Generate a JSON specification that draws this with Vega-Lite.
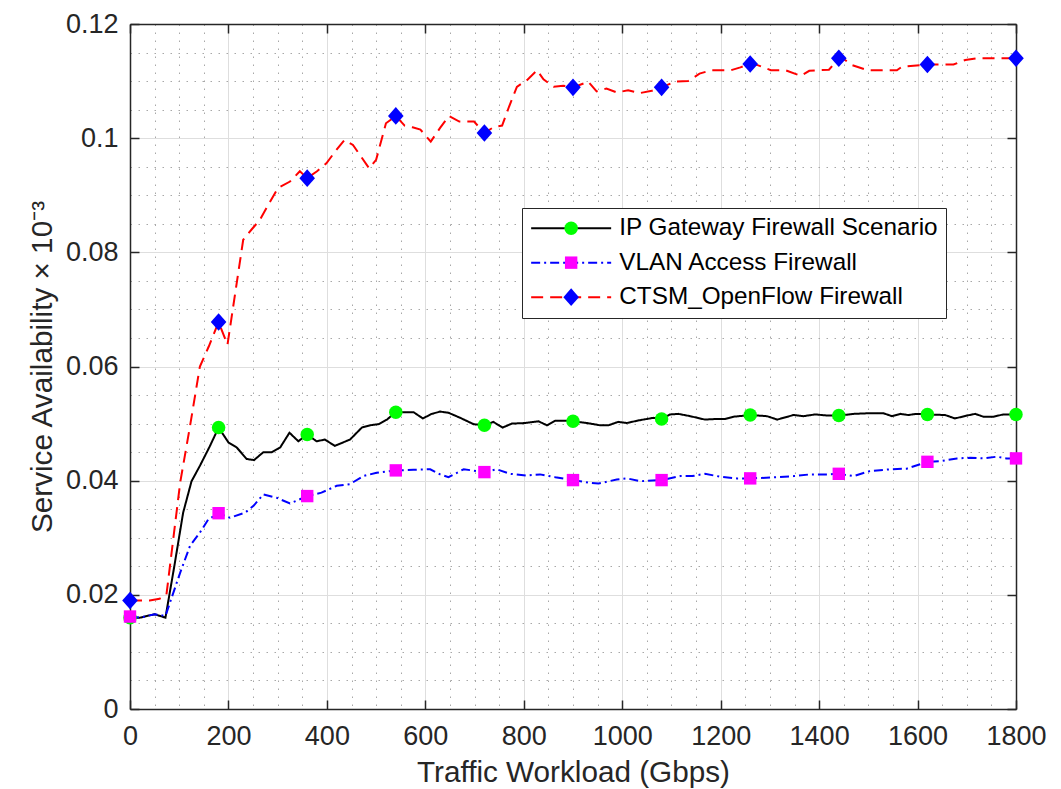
{
  "$schema": "https://vega.github.io/schema/vega-lite/v6.json",
  "width": 886,
  "height": 685,
  "autosize": {"type": "none"},
  "padding": {"left": 130, "top": 24, "right": 45, "bottom": 80},
  "background": "#ffffff",
  "config": {"view": {"stroke": null}, "font": "Liberation Sans"},
  "datasets": {
    "curves": [
      {"series": "IP Gateway Firewall Scenario", "x": 0, "y": 0.0160},
      {"series": "IP Gateway Firewall Scenario", "x": 20, "y": 0.0160},
      {"series": "IP Gateway Firewall Scenario", "x": 50, "y": 0.0166},
      {"series": "IP Gateway Firewall Scenario", "x": 72, "y": 0.0160},
      {"series": "IP Gateway Firewall Scenario", "x": 90, "y": 0.0250},
      {"series": "IP Gateway Firewall Scenario", "x": 108, "y": 0.0344},
      {"series": "IP Gateway Firewall Scenario", "x": 125, "y": 0.0399},
      {"series": "IP Gateway Firewall Scenario", "x": 142, "y": 0.0426},
      {"series": "IP Gateway Firewall Scenario", "x": 162, "y": 0.0460},
      {"series": "IP Gateway Firewall Scenario", "x": 180, "y": 0.0493},
      {"series": "IP Gateway Firewall Scenario", "x": 200, "y": 0.0467},
      {"series": "IP Gateway Firewall Scenario", "x": 217, "y": 0.0458},
      {"series": "IP Gateway Firewall Scenario", "x": 237, "y": 0.0438},
      {"series": "IP Gateway Firewall Scenario", "x": 252, "y": 0.0436},
      {"series": "IP Gateway Firewall Scenario", "x": 271, "y": 0.0450},
      {"series": "IP Gateway Firewall Scenario", "x": 288, "y": 0.0450},
      {"series": "IP Gateway Firewall Scenario", "x": 305, "y": 0.0458},
      {"series": "IP Gateway Firewall Scenario", "x": 324, "y": 0.0484},
      {"series": "IP Gateway Firewall Scenario", "x": 342, "y": 0.0469},
      {"series": "IP Gateway Firewall Scenario", "x": 360, "y": 0.0481},
      {"series": "IP Gateway Firewall Scenario", "x": 379, "y": 0.0469},
      {"series": "IP Gateway Firewall Scenario", "x": 396, "y": 0.0472},
      {"series": "IP Gateway Firewall Scenario", "x": 416, "y": 0.0461},
      {"series": "IP Gateway Firewall Scenario", "x": 447, "y": 0.0472},
      {"series": "IP Gateway Firewall Scenario", "x": 471, "y": 0.0493},
      {"series": "IP Gateway Firewall Scenario", "x": 488, "y": 0.0497},
      {"series": "IP Gateway Firewall Scenario", "x": 505, "y": 0.0499},
      {"series": "IP Gateway Firewall Scenario", "x": 522, "y": 0.0507},
      {"series": "IP Gateway Firewall Scenario", "x": 540, "y": 0.0520},
      {"series": "IP Gateway Firewall Scenario", "x": 576, "y": 0.0520},
      {"series": "IP Gateway Firewall Scenario", "x": 595, "y": 0.0509},
      {"series": "IP Gateway Firewall Scenario", "x": 613, "y": 0.0517},
      {"series": "IP Gateway Firewall Scenario", "x": 630, "y": 0.0521},
      {"series": "IP Gateway Firewall Scenario", "x": 647, "y": 0.0519},
      {"series": "IP Gateway Firewall Scenario", "x": 671, "y": 0.0510},
      {"series": "IP Gateway Firewall Scenario", "x": 698, "y": 0.0499},
      {"series": "IP Gateway Firewall Scenario", "x": 720, "y": 0.0497},
      {"series": "IP Gateway Firewall Scenario", "x": 738, "y": 0.0503},
      {"series": "IP Gateway Firewall Scenario", "x": 757, "y": 0.0493},
      {"series": "IP Gateway Firewall Scenario", "x": 776, "y": 0.0500},
      {"series": "IP Gateway Firewall Scenario", "x": 803, "y": 0.0501},
      {"series": "IP Gateway Firewall Scenario", "x": 830, "y": 0.0504},
      {"series": "IP Gateway Firewall Scenario", "x": 847, "y": 0.0497},
      {"series": "IP Gateway Firewall Scenario", "x": 864, "y": 0.0505},
      {"series": "IP Gateway Firewall Scenario", "x": 884, "y": 0.0505},
      {"series": "IP Gateway Firewall Scenario", "x": 900, "y": 0.0504},
      {"series": "IP Gateway Firewall Scenario", "x": 928, "y": 0.0501},
      {"series": "IP Gateway Firewall Scenario", "x": 955, "y": 0.0497},
      {"series": "IP Gateway Firewall Scenario", "x": 972, "y": 0.0497},
      {"series": "IP Gateway Firewall Scenario", "x": 992, "y": 0.0503},
      {"series": "IP Gateway Firewall Scenario", "x": 1009, "y": 0.0501},
      {"series": "IP Gateway Firewall Scenario", "x": 1036, "y": 0.0506},
      {"series": "IP Gateway Firewall Scenario", "x": 1063, "y": 0.0510},
      {"series": "IP Gateway Firewall Scenario", "x": 1080, "y": 0.0508},
      {"series": "IP Gateway Firewall Scenario", "x": 1097, "y": 0.0516},
      {"series": "IP Gateway Firewall Scenario", "x": 1114, "y": 0.0517},
      {"series": "IP Gateway Firewall Scenario", "x": 1138, "y": 0.0513},
      {"series": "IP Gateway Firewall Scenario", "x": 1168, "y": 0.0507},
      {"series": "IP Gateway Firewall Scenario", "x": 1189, "y": 0.0508},
      {"series": "IP Gateway Firewall Scenario", "x": 1209, "y": 0.0508},
      {"series": "IP Gateway Firewall Scenario", "x": 1226, "y": 0.0512},
      {"series": "IP Gateway Firewall Scenario", "x": 1260, "y": 0.0515},
      {"series": "IP Gateway Firewall Scenario", "x": 1294, "y": 0.0513},
      {"series": "IP Gateway Firewall Scenario", "x": 1315, "y": 0.0507},
      {"series": "IP Gateway Firewall Scenario", "x": 1348, "y": 0.0515},
      {"series": "IP Gateway Firewall Scenario", "x": 1368, "y": 0.0513},
      {"series": "IP Gateway Firewall Scenario", "x": 1392, "y": 0.0516},
      {"series": "IP Gateway Firewall Scenario", "x": 1419, "y": 0.0514},
      {"series": "IP Gateway Firewall Scenario", "x": 1440, "y": 0.0514},
      {"series": "IP Gateway Firewall Scenario", "x": 1470, "y": 0.0517},
      {"series": "IP Gateway Firewall Scenario", "x": 1497, "y": 0.0518},
      {"series": "IP Gateway Firewall Scenario", "x": 1531, "y": 0.0518},
      {"series": "IP Gateway Firewall Scenario", "x": 1548, "y": 0.0513},
      {"series": "IP Gateway Firewall Scenario", "x": 1565, "y": 0.0517},
      {"series": "IP Gateway Firewall Scenario", "x": 1581, "y": 0.0515},
      {"series": "IP Gateway Firewall Scenario", "x": 1598, "y": 0.0517},
      {"series": "IP Gateway Firewall Scenario", "x": 1620, "y": 0.0516},
      {"series": "IP Gateway Firewall Scenario", "x": 1656, "y": 0.0515},
      {"series": "IP Gateway Firewall Scenario", "x": 1676, "y": 0.0509},
      {"series": "IP Gateway Firewall Scenario", "x": 1700, "y": 0.0514},
      {"series": "IP Gateway Firewall Scenario", "x": 1717, "y": 0.0517},
      {"series": "IP Gateway Firewall Scenario", "x": 1734, "y": 0.0512},
      {"series": "IP Gateway Firewall Scenario", "x": 1754, "y": 0.0512},
      {"series": "IP Gateway Firewall Scenario", "x": 1774, "y": 0.0516},
      {"series": "IP Gateway Firewall Scenario", "x": 1800, "y": 0.0516},

      {"series": "VLAN Access Firewall", "x": 0, "y": 0.0162},
      {"series": "VLAN Access Firewall", "x": 20, "y": 0.0160},
      {"series": "VLAN Access Firewall", "x": 50, "y": 0.0166},
      {"series": "VLAN Access Firewall", "x": 72, "y": 0.0163},
      {"series": "VLAN Access Firewall", "x": 102, "y": 0.0239},
      {"series": "VLAN Access Firewall", "x": 122, "y": 0.0286},
      {"series": "VLAN Access Firewall", "x": 142, "y": 0.0309},
      {"series": "VLAN Access Firewall", "x": 159, "y": 0.0332},
      {"series": "VLAN Access Firewall", "x": 180, "y": 0.0343},
      {"series": "VLAN Access Firewall", "x": 203, "y": 0.0335},
      {"series": "VLAN Access Firewall", "x": 234, "y": 0.0344},
      {"series": "VLAN Access Firewall", "x": 251, "y": 0.0356},
      {"series": "VLAN Access Firewall", "x": 271, "y": 0.0376},
      {"series": "VLAN Access Firewall", "x": 298, "y": 0.0370},
      {"series": "VLAN Access Firewall", "x": 325, "y": 0.0360},
      {"series": "VLAN Access Firewall", "x": 360, "y": 0.0373},
      {"series": "VLAN Access Firewall", "x": 389, "y": 0.0379},
      {"series": "VLAN Access Firewall", "x": 420, "y": 0.0391},
      {"series": "VLAN Access Firewall", "x": 447, "y": 0.0394},
      {"series": "VLAN Access Firewall", "x": 474, "y": 0.0408},
      {"series": "VLAN Access Firewall", "x": 501, "y": 0.0414},
      {"series": "VLAN Access Firewall", "x": 540, "y": 0.0418},
      {"series": "VLAN Access Firewall", "x": 576, "y": 0.0419},
      {"series": "VLAN Access Firewall", "x": 610, "y": 0.0420},
      {"series": "VLAN Access Firewall", "x": 630, "y": 0.0411},
      {"series": "VLAN Access Firewall", "x": 647, "y": 0.0406},
      {"series": "VLAN Access Firewall", "x": 678, "y": 0.0420},
      {"series": "VLAN Access Firewall", "x": 720, "y": 0.0415},
      {"series": "VLAN Access Firewall", "x": 745, "y": 0.0420},
      {"series": "VLAN Access Firewall", "x": 772, "y": 0.0412},
      {"series": "VLAN Access Firewall", "x": 806, "y": 0.0409},
      {"series": "VLAN Access Firewall", "x": 833, "y": 0.0411},
      {"series": "VLAN Access Firewall", "x": 864, "y": 0.0406},
      {"series": "VLAN Access Firewall", "x": 900, "y": 0.0401},
      {"series": "VLAN Access Firewall", "x": 935, "y": 0.0396},
      {"series": "VLAN Access Firewall", "x": 952, "y": 0.0395},
      {"series": "VLAN Access Firewall", "x": 989, "y": 0.0402},
      {"series": "VLAN Access Firewall", "x": 1010, "y": 0.0404},
      {"series": "VLAN Access Firewall", "x": 1036, "y": 0.0399},
      {"series": "VLAN Access Firewall", "x": 1080, "y": 0.0401},
      {"series": "VLAN Access Firewall", "x": 1118, "y": 0.0408},
      {"series": "VLAN Access Firewall", "x": 1142, "y": 0.0408},
      {"series": "VLAN Access Firewall", "x": 1168, "y": 0.0412},
      {"series": "VLAN Access Firewall", "x": 1199, "y": 0.0407},
      {"series": "VLAN Access Firewall", "x": 1233, "y": 0.0404},
      {"series": "VLAN Access Firewall", "x": 1260, "y": 0.0404},
      {"series": "VLAN Access Firewall", "x": 1314, "y": 0.0406},
      {"series": "VLAN Access Firewall", "x": 1348, "y": 0.0408},
      {"series": "VLAN Access Firewall", "x": 1382, "y": 0.0411},
      {"series": "VLAN Access Firewall", "x": 1416, "y": 0.0411},
      {"series": "VLAN Access Firewall", "x": 1440, "y": 0.0412},
      {"series": "VLAN Access Firewall", "x": 1470, "y": 0.0408},
      {"series": "VLAN Access Firewall", "x": 1504, "y": 0.0417},
      {"series": "VLAN Access Firewall", "x": 1545, "y": 0.0420},
      {"series": "VLAN Access Firewall", "x": 1578, "y": 0.0421},
      {"series": "VLAN Access Firewall", "x": 1620, "y": 0.0433},
      {"series": "VLAN Access Firewall", "x": 1646, "y": 0.0434},
      {"series": "VLAN Access Firewall", "x": 1680, "y": 0.0439},
      {"series": "VLAN Access Firewall", "x": 1707, "y": 0.0440},
      {"series": "VLAN Access Firewall", "x": 1734, "y": 0.0439},
      {"series": "VLAN Access Firewall", "x": 1761, "y": 0.0442},
      {"series": "VLAN Access Firewall", "x": 1781, "y": 0.0439},
      {"series": "VLAN Access Firewall", "x": 1800, "y": 0.0439},

      {"series": "CTSM_OpenFlow Firewall", "x": 0, "y": 0.0190},
      {"series": "CTSM_OpenFlow Firewall", "x": 20, "y": 0.0190},
      {"series": "CTSM_OpenFlow Firewall", "x": 40, "y": 0.0190},
      {"series": "CTSM_OpenFlow Firewall", "x": 60, "y": 0.0193},
      {"series": "CTSM_OpenFlow Firewall", "x": 74, "y": 0.0200},
      {"series": "CTSM_OpenFlow Firewall", "x": 102, "y": 0.0397},
      {"series": "CTSM_OpenFlow Firewall", "x": 122, "y": 0.0496},
      {"series": "CTSM_OpenFlow Firewall", "x": 142, "y": 0.0600},
      {"series": "CTSM_OpenFlow Firewall", "x": 160, "y": 0.0635},
      {"series": "CTSM_OpenFlow Firewall", "x": 180, "y": 0.0678},
      {"series": "CTSM_OpenFlow Firewall", "x": 198, "y": 0.0638},
      {"series": "CTSM_OpenFlow Firewall", "x": 230, "y": 0.0822},
      {"series": "CTSM_OpenFlow Firewall", "x": 247, "y": 0.0840},
      {"series": "CTSM_OpenFlow Firewall", "x": 264, "y": 0.0857},
      {"series": "CTSM_OpenFlow Firewall", "x": 282, "y": 0.0885},
      {"series": "CTSM_OpenFlow Firewall", "x": 301, "y": 0.0913},
      {"series": "CTSM_OpenFlow Firewall", "x": 325, "y": 0.0924},
      {"series": "CTSM_OpenFlow Firewall", "x": 345, "y": 0.0942},
      {"series": "CTSM_OpenFlow Firewall", "x": 360, "y": 0.0930},
      {"series": "CTSM_OpenFlow Firewall", "x": 380, "y": 0.0942},
      {"series": "CTSM_OpenFlow Firewall", "x": 399, "y": 0.0956},
      {"series": "CTSM_OpenFlow Firewall", "x": 418, "y": 0.0978},
      {"series": "CTSM_OpenFlow Firewall", "x": 436, "y": 0.0997},
      {"series": "CTSM_OpenFlow Firewall", "x": 453, "y": 0.0988},
      {"series": "CTSM_OpenFlow Firewall", "x": 470, "y": 0.0967},
      {"series": "CTSM_OpenFlow Firewall", "x": 486, "y": 0.0947},
      {"series": "CTSM_OpenFlow Firewall", "x": 500, "y": 0.0962},
      {"series": "CTSM_OpenFlow Firewall", "x": 520, "y": 0.1026},
      {"series": "CTSM_OpenFlow Firewall", "x": 540, "y": 0.1039},
      {"series": "CTSM_OpenFlow Firewall", "x": 558, "y": 0.1022},
      {"series": "CTSM_OpenFlow Firewall", "x": 574, "y": 0.1019},
      {"series": "CTSM_OpenFlow Firewall", "x": 590, "y": 0.1015},
      {"series": "CTSM_OpenFlow Firewall", "x": 611, "y": 0.0994},
      {"series": "CTSM_OpenFlow Firewall", "x": 630, "y": 0.1018},
      {"series": "CTSM_OpenFlow Firewall", "x": 648, "y": 0.1039},
      {"series": "CTSM_OpenFlow Firewall", "x": 669, "y": 0.1029},
      {"series": "CTSM_OpenFlow Firewall", "x": 699, "y": 0.1029},
      {"series": "CTSM_OpenFlow Firewall", "x": 720, "y": 0.1009},
      {"series": "CTSM_OpenFlow Firewall", "x": 740, "y": 0.1020},
      {"series": "CTSM_OpenFlow Firewall", "x": 756, "y": 0.1022},
      {"series": "CTSM_OpenFlow Firewall", "x": 770, "y": 0.1055},
      {"series": "CTSM_OpenFlow Firewall", "x": 786, "y": 0.1090},
      {"series": "CTSM_OpenFlow Firewall", "x": 807, "y": 0.1102},
      {"series": "CTSM_OpenFlow Firewall", "x": 827, "y": 0.1119},
      {"series": "CTSM_OpenFlow Firewall", "x": 840, "y": 0.1103},
      {"series": "CTSM_OpenFlow Firewall", "x": 861, "y": 0.1090},
      {"series": "CTSM_OpenFlow Firewall", "x": 880, "y": 0.1092},
      {"series": "CTSM_OpenFlow Firewall", "x": 900, "y": 0.1089},
      {"series": "CTSM_OpenFlow Firewall", "x": 931, "y": 0.1099},
      {"series": "CTSM_OpenFlow Firewall", "x": 948, "y": 0.1082},
      {"series": "CTSM_OpenFlow Firewall", "x": 968, "y": 0.1087},
      {"series": "CTSM_OpenFlow Firewall", "x": 989, "y": 0.1080},
      {"series": "CTSM_OpenFlow Firewall", "x": 1012, "y": 0.1084},
      {"series": "CTSM_OpenFlow Firewall", "x": 1036, "y": 0.1079},
      {"series": "CTSM_OpenFlow Firewall", "x": 1060, "y": 0.1083},
      {"series": "CTSM_OpenFlow Firewall", "x": 1080, "y": 0.1089},
      {"series": "CTSM_OpenFlow Firewall", "x": 1107, "y": 0.1099},
      {"series": "CTSM_OpenFlow Firewall", "x": 1134, "y": 0.1100},
      {"series": "CTSM_OpenFlow Firewall", "x": 1157, "y": 0.1113},
      {"series": "CTSM_OpenFlow Firewall", "x": 1181, "y": 0.1119},
      {"series": "CTSM_OpenFlow Firewall", "x": 1221, "y": 0.1119},
      {"series": "CTSM_OpenFlow Firewall", "x": 1240, "y": 0.1124},
      {"series": "CTSM_OpenFlow Firewall", "x": 1260, "y": 0.1130},
      {"series": "CTSM_OpenFlow Firewall", "x": 1275, "y": 0.1128},
      {"series": "CTSM_OpenFlow Firewall", "x": 1302, "y": 0.1119},
      {"series": "CTSM_OpenFlow Firewall", "x": 1332, "y": 0.1119},
      {"series": "CTSM_OpenFlow Firewall", "x": 1363, "y": 0.1109},
      {"series": "CTSM_OpenFlow Firewall", "x": 1380, "y": 0.1118},
      {"series": "CTSM_OpenFlow Firewall", "x": 1420, "y": 0.1120},
      {"series": "CTSM_OpenFlow Firewall", "x": 1440, "y": 0.1140},
      {"series": "CTSM_OpenFlow Firewall", "x": 1451, "y": 0.1138},
      {"series": "CTSM_OpenFlow Firewall", "x": 1467, "y": 0.1128},
      {"series": "CTSM_OpenFlow Firewall", "x": 1498, "y": 0.1119},
      {"series": "CTSM_OpenFlow Firewall", "x": 1558, "y": 0.1119},
      {"series": "CTSM_OpenFlow Firewall", "x": 1568, "y": 0.1125},
      {"series": "CTSM_OpenFlow Firewall", "x": 1620, "y": 0.1129},
      {"series": "CTSM_OpenFlow Firewall", "x": 1673, "y": 0.1129},
      {"series": "CTSM_OpenFlow Firewall", "x": 1697, "y": 0.1137},
      {"series": "CTSM_OpenFlow Firewall", "x": 1720, "y": 0.1140},
      {"series": "CTSM_OpenFlow Firewall", "x": 1800, "y": 0.1140}
    ]
  },
  "data": {"name": "curves"},
  "layer": [
    {
      "mark": {"type": "point", "opacity": 0},
      "encoding": {
        "x": {
          "field": "x", "type": "quantitative",
          "scale": {"domain": [0, 1800], "nice": false, "zero": false},
          "axis": {
            "orient": "bottom", "title": null, "labels": false, "ticks": false, "domain": false,
            "grid": true, "gridColor": "#a8a8a8", "gridDash": [1.5, 6.5], "gridWidth": 1,
            "values": [50, 100, 150, 250, 300, 350, 450, 500, 550, 650, 700, 750, 850, 900, 950, 1050, 1100, 1150, 1250, 1300, 1350, 1450, 1500, 1550, 1650, 1700, 1750]
          }
        },
        "y": {
          "field": "y", "type": "quantitative",
          "scale": {"domain": [0, 0.12], "nice": false, "zero": false},
          "axis": {
            "orient": "left", "title": null, "labels": false, "ticks": false, "domain": false,
            "grid": true, "gridColor": "#a8a8a8", "gridDash": [1.5, 6.5], "gridWidth": 1,
            "values": [0.005, 0.01, 0.015, 0.025, 0.03, 0.035, 0.045, 0.05, 0.055, 0.065, 0.07, 0.075, 0.085, 0.09, 0.095, 0.105, 0.11, 0.115]
          }
        }
      }
    },
    {
      "mark": {"type": "line", "strokeWidth": 2, "clip": false},
      "encoding": {
        "x": {
          "field": "x", "type": "quantitative",
          "axis": {
            "orient": "bottom", "values": [0, 200, 400, 600, 800, 1000, 1200, 1400, 1600, 1800],
            "format": "d",
            "grid": true, "gridColor": "#dedede", "gridWidth": 1,
            "domain": true, "domainColor": "#262626", "domainWidth": 1.5,
            "ticks": true, "tickSize": -9, "tickColor": "#262626", "tickWidth": 1.5,
            "labelFontSize": 27, "labelColor": "#262626", "labelPadding": 23, "labelFlush": false,
            "title": "Traffic Workload (Gbps)", "titleFontSize": 29.7, "titleFontWeight": "normal",
            "titleColor": "#262626", "titlePadding": 9
          }
        },
        "y": {
          "field": "y", "type": "quantitative",
          "axis": {
            "orient": "left", "values": [0, 0.02, 0.04, 0.06, 0.08, 0.1, 0.12],
            "format": ".2~f",
            "grid": true, "gridColor": "#dedede", "gridWidth": 1,
            "domain": true, "domainColor": "#262626", "domainWidth": 1.5,
            "ticks": true, "tickSize": -9, "tickColor": "#262626", "tickWidth": 1.5,
            "labelFontSize": 27, "labelColor": "#262626", "labelPadding": 21, "labelFlush": false,
            "title": "Service Availability × 10⁻³", "titleFontSize": 29.7, "titleFontWeight": "normal",
            "titleColor": "#262626", "titlePadding": 8
          }
        },
        "stroke": {
          "field": "series", "type": "nominal",
          "scale": {
            "domain": ["IP Gateway Firewall Scenario", "VLAN Access Firewall", "CTSM_OpenFlow Firewall"],
            "range": ["#000000", "#0000ff", "#ff0000"]
          },
          "legend": {
            "title": null, "orient": "none", "legendX": 392, "legendY": 184,
            "symbolType": "M-4,0H4", "symbolSize": 400, "symbolStrokeWidth": 2,
            "symbolOffset": 29, "labelOffset": 36, "labelFontSize": 24.3, "labelColor": "#000000",
            "labelLimit": 600, "padding": 8, "rowPadding": 9.5,
            "strokeColor": "#262626", "fillColor": "#ffffff"
          }
        },
        "strokeDash": {
          "field": "series", "type": "nominal",
          "scale": {
            "domain": ["IP Gateway Firewall Scenario", "VLAN Access Firewall", "CTSM_OpenFlow Firewall"],
            "range": [[1, 0], [9, 4, 2, 4], [12, 7]]
          },
          "legend": {
            "title": null, "orient": "none", "legendX": 392, "legendY": 184,
            "symbolType": "M-4,0H4", "symbolSize": 400, "symbolStrokeWidth": 2,
            "symbolOffset": 29, "labelOffset": 36, "labelFontSize": 24.3, "labelColor": "#000000",
            "labelLimit": 600, "padding": 8, "rowPadding": 9.5,
            "strokeColor": "#262626", "fillColor": "#ffffff"
          }
        },
        "detail": {"field": "series", "type": "nominal"}
      }
    },
    {
      "transform": [{"filter": "datum.x % 180 === 0"}],
      "mark": {"type": "point", "filled": true, "size": 400, "opacity": 1, "strokeWidth": 0, "clip": false},
      "encoding": {
        "x": {
          "field": "x", "type": "quantitative",
          "axis": {
            "orient": "top", "values": [0, 200, 400, 600, 800, 1000, 1200, 1400, 1600, 1800],
            "grid": false, "labels": false, "title": null,
            "domain": true, "domainColor": "#262626", "domainWidth": 1.5,
            "ticks": true, "tickSize": -9, "tickColor": "#262626", "tickWidth": 1.5
          }
        },
        "y": {
          "field": "y", "type": "quantitative",
          "axis": {
            "orient": "right", "values": [0, 0.02, 0.04, 0.06, 0.08, 0.1, 0.12],
            "grid": false, "labels": false, "title": null,
            "domain": true, "domainColor": "#262626", "domainWidth": 1.5,
            "ticks": true, "tickSize": -9, "tickColor": "#262626", "tickWidth": 1.5
          }
        },
        "fill": {
          "field": "series", "type": "nominal",
          "sort": {"field": "y", "op": "min", "order": "ascending"},
          "scale": {"range": ["#00ff00", "#ff00ff", "#0000ff"]},
          "legend": {
            "title": null, "orient": "none", "legendX": 392, "legendY": 184,
            "symbolSize": 400, "symbolStrokeWidth": 0,
            "symbolOffset": 29, "labelOffset": 36, "labelFontSize": 24.3, "labelOpacity": 0,
            "labelLimit": 600, "padding": 8, "rowPadding": 9.5
          }
        },
        "shape": {
          "field": "series", "type": "nominal",
          "sort": {"field": "y", "op": "min", "order": "ascending"},
          "scale": {"range": [
            "M0.675,0L0.624,0.258L0.477,0.477L0.258,0.624L0,0.675L-0.258,0.624L-0.477,0.477L-0.624,0.258L-0.675,0L-0.624,-0.258L-0.477,-0.477L-0.258,-0.624L0,-0.675L0.258,-0.624L0.477,-0.477L0.624,-0.258Z",
            "M-0.62,-0.62H0.62V0.62H-0.62Z",
            "M-0.78,0L0,-0.88L0.78,0L0,0.88Z"
          ]},
          "legend": {
            "title": null, "orient": "none", "legendX": 392, "legendY": 184,
            "symbolSize": 400, "symbolStrokeWidth": 0,
            "symbolOffset": 29, "labelOffset": 36, "labelFontSize": 24.3, "labelOpacity": 0,
            "labelLimit": 600, "padding": 8, "rowPadding": 9.5
          }
        }
      }
    }
  ],
  "resolve": {"axis": {"x": "independent", "y": "independent"}}
}
